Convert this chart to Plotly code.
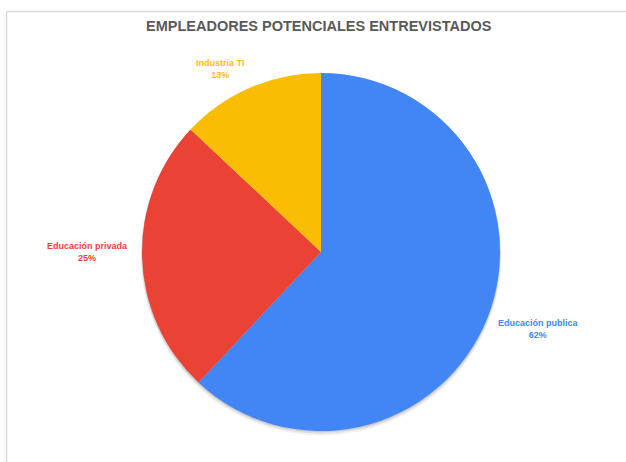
import plotly.graph_objects as go

# Data
categories = ["Educación publica", "Educación privada", "Industria TI"]
values = [62, 25, 13]
colors = ["#4285F4", "#EA4335", "#FBBC04"]

title_text = "EMPLEADORES POTENCIALES ENTREVISTADOS"

# Canvas geometry (pixels)
W, H = 626, 462
CX, CY, R = 321, 252, 179

# Label anchor positions (pixels, text centre)
label_pos = {
    "Educación publica": (538, 329),
    "Educación privada": (87, 252),
    "Industria TI": (220, 69),
}


def px_domain(cx, cy, r):
    return dict(x=[(cx - r) / W, (cx + r) / W],
                y=[1 - (cy + r) / H, 1 - (cy - r) / H])


fig = go.Figure()

# soft drop shadow beneath the pie
for dy, dr, alpha in [(3, 1.5, 0.05), (2, 0.8, 0.08), (1, 0.3, 0.10)]:
    fig.add_trace(go.Pie(
        values=[1],
        marker=dict(colors=[f"rgba(0,0,0,{alpha})"], line=dict(width=0)),
        domain=px_domain(CX, CY + dy, R + dr),
        textinfo="none", hoverinfo="skip", showlegend=False, sort=False,
    ))

fig.add_trace(go.Pie(
    labels=categories,
    values=values,
    marker=dict(colors=colors, line=dict(width=0)),
    sort=False,
    direction="clockwise",
    rotation=0,
    textinfo="none",
    domain=px_domain(CX, CY, R),
    showlegend=False,
))

total = sum(values)
annotations = []
for cat, val, col in zip(categories, values, colors):
    lx, ly = label_pos[cat]
    pct = round(val / total * 100)
    annotations.append(dict(
        text=f"{cat}<br>{pct}%",
        x=lx / W, y=1 - ly / H, xref="paper", yref="paper",
        xanchor="center", yanchor="middle", showarrow=False,
        align="center",
        font=dict(family="Liberation Sans, Arial, sans-serif", size=9,
                  color=col, weight="bold"),
    ))

# chart title
annotations.append(dict(
    text=title_text,
    x=318.5 / W, y=1 - 26 / H, xref="paper", yref="paper",
    xanchor="center", yanchor="middle", showarrow=False,
    font=dict(family="Liberation Sans, Arial, sans-serif", size=14.5,
              color="#5a5a5a", weight="bold"),
))

# light frame along the top and left edges
frame_color = "#d9d9d9"
shapes = [
    dict(type="line", xref="paper", yref="paper",
         x0=6.5 / W, x1=1, y0=1 - 11.5 / H, y1=1 - 11.5 / H,
         line=dict(color=frame_color, width=1.5)),
    dict(type="line", xref="paper", yref="paper",
         x0=6.5 / W, x1=6.5 / W, y0=1 - 11.5 / H, y1=0,
         line=dict(color=frame_color, width=1.5)),
]

fig.update_layout(
    width=W, height=H,
    margin=dict(l=0, r=0, t=0, b=0),
    paper_bgcolor="white",
    plot_bgcolor="white",
    annotations=annotations,
    shapes=shapes,
    showlegend=False,
)

fig.write_html("out.html")
